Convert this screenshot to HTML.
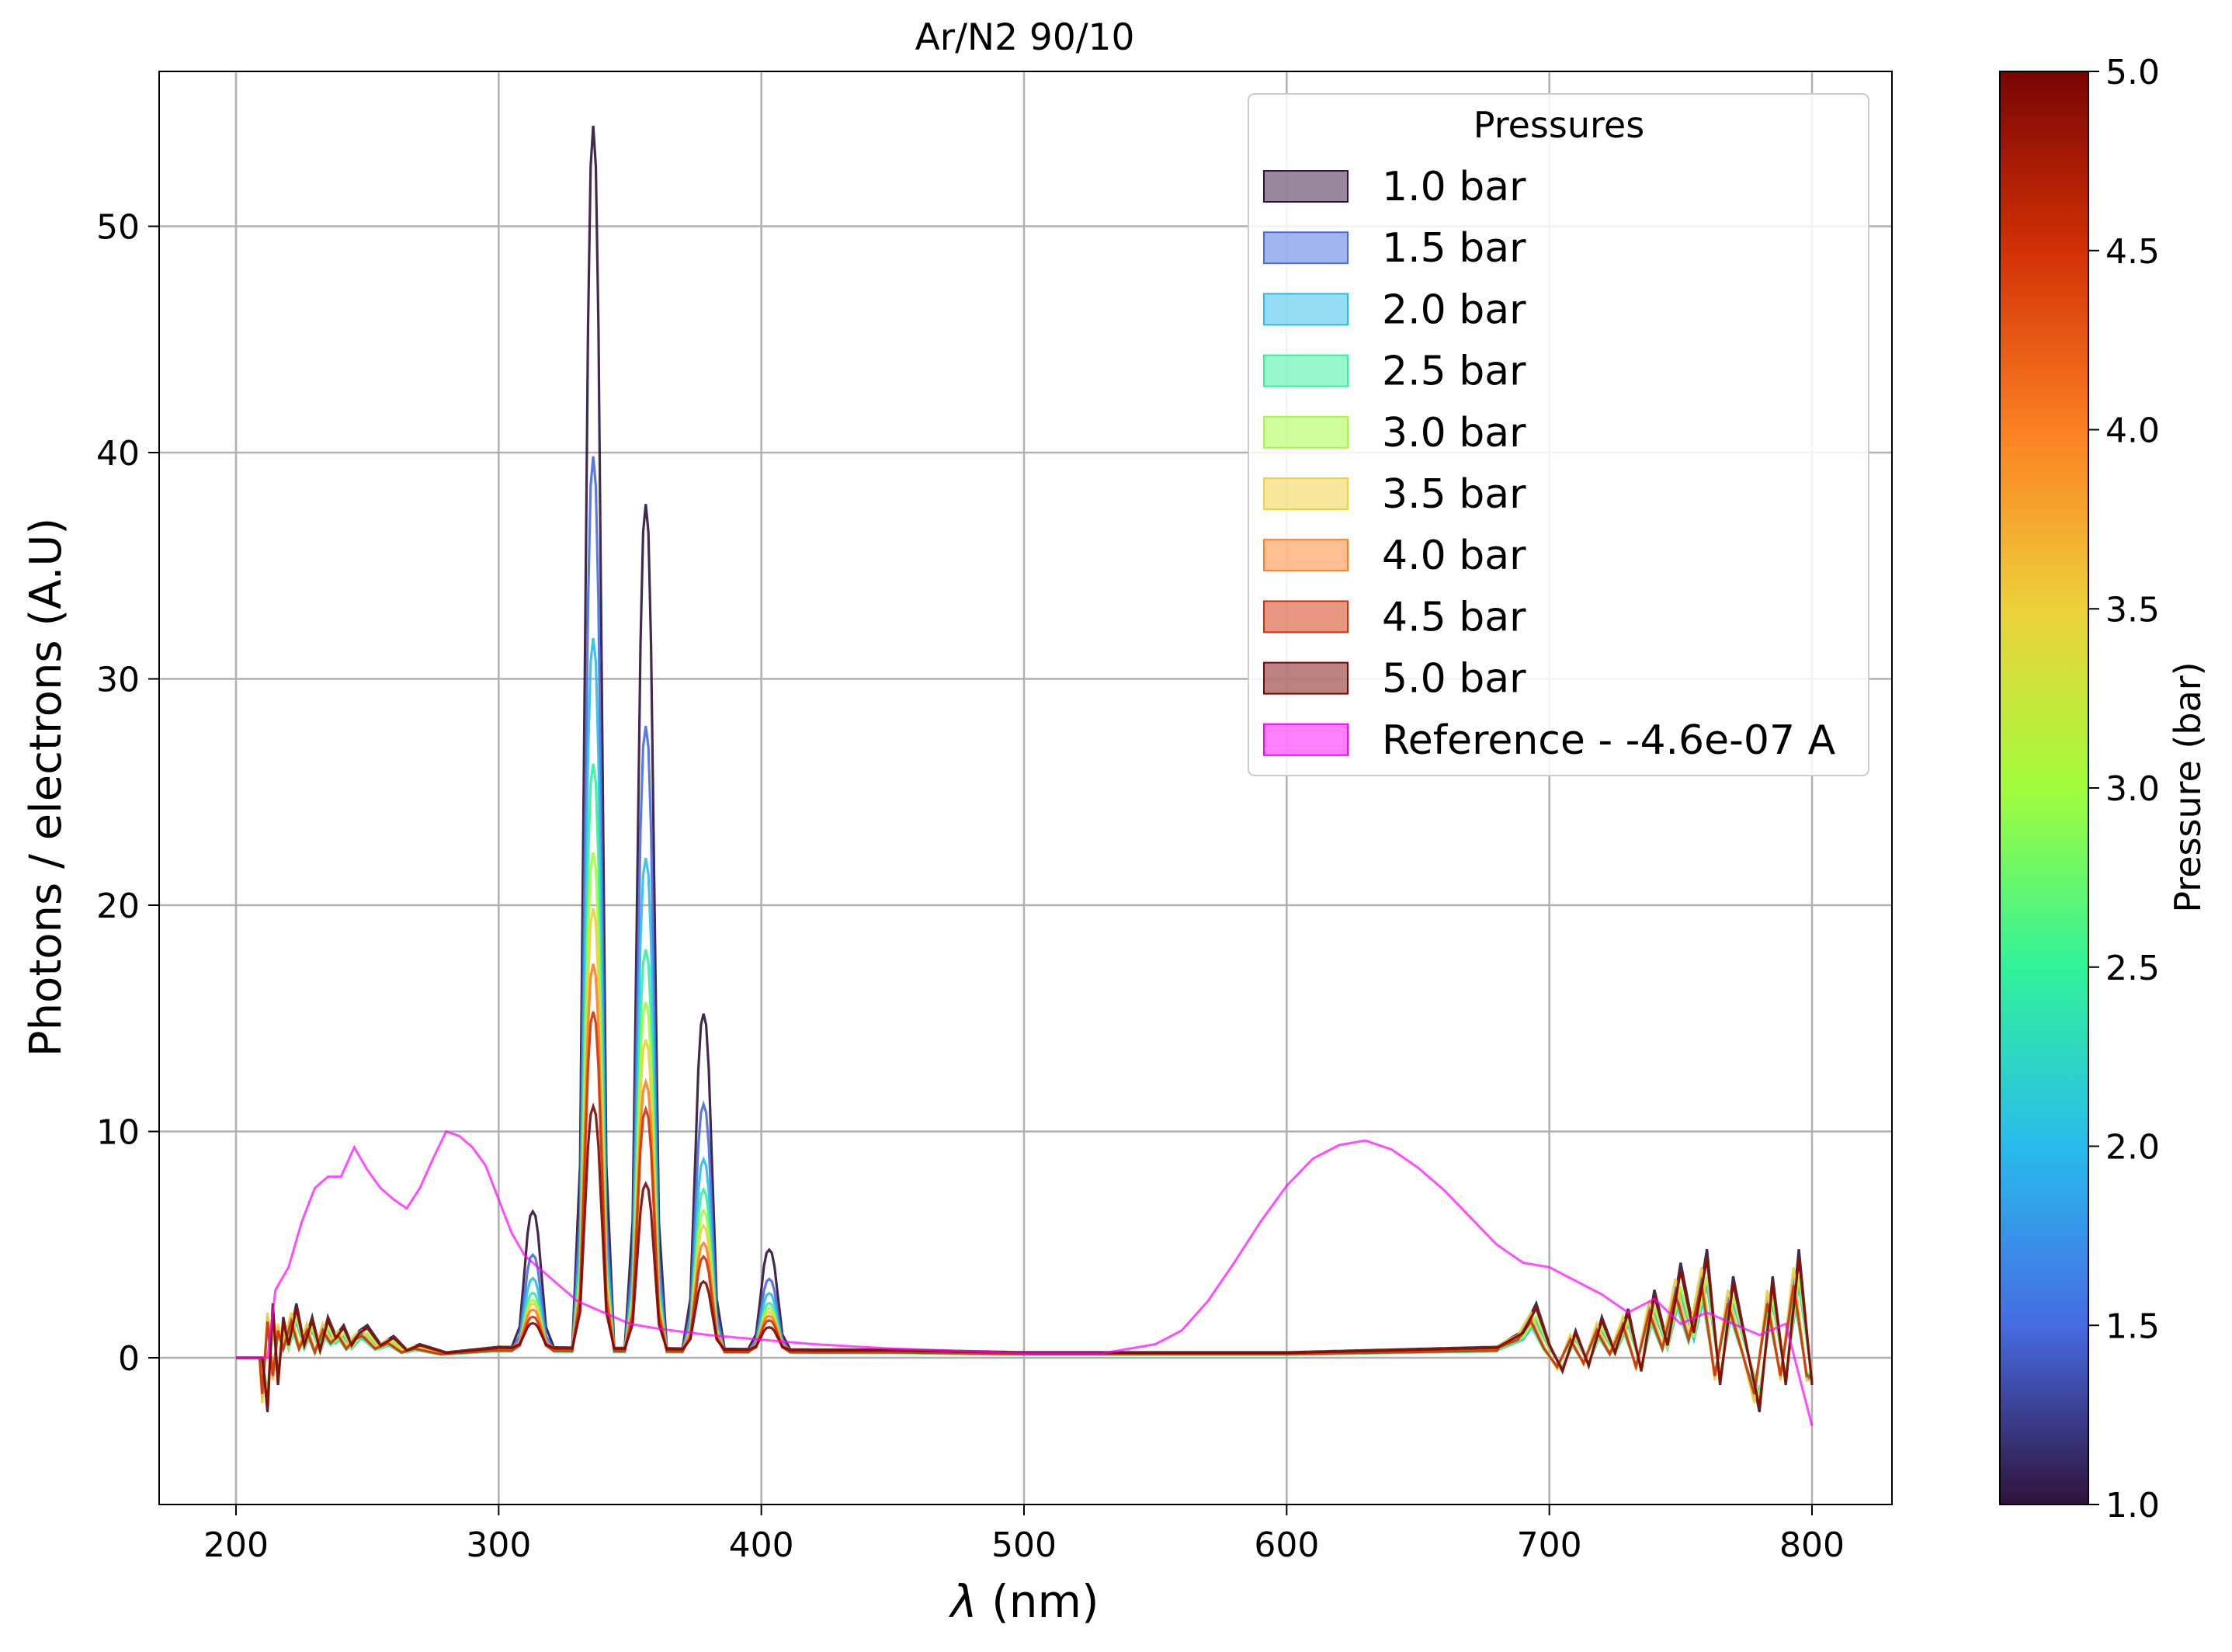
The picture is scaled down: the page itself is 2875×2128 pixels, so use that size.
<!DOCTYPE html>
<html><head><meta charset="utf-8"><style>
body{margin:0;background:#fff}
svg{display:block;font-family:"DejaVu Sans","Liberation Sans",sans-serif}
</style></head><body>
<svg id="c" width="2875" height="2128" viewBox="0 0 2875 2128" xmlns="http://www.w3.org/2000/svg">
<defs>
<linearGradient id="turbo" x1="0" y1="1" x2="0" y2="0">
<stop offset="0" stop-color="#30123b"/><stop offset="0.125" stop-color="#466be3"/>
<stop offset="0.25" stop-color="#29bbec"/><stop offset="0.375" stop-color="#31f299"/>
<stop offset="0.5" stop-color="#a2fc3c"/><stop offset="0.625" stop-color="#edd03a"/>
<stop offset="0.75" stop-color="#fb8022"/><stop offset="0.875" stop-color="#d23105"/>
<stop offset="1" stop-color="#7a0403"/>
</linearGradient>
<clipPath id="plotclip"><rect x="205" y="92" width="2232" height="1846"/></clipPath>
</defs>
<g id="grid"></g>
<g id="series" clip-path="url(#plotclip)"></g>
<rect x="205" y="92" width="2232" height="1846" fill="none" stroke="#000" stroke-width="2"/>
<g id="axes"></g>
<text x="1320" y="64" font-size="47" text-anchor="middle">Ar/N2 90/10</text>
<text x="1320" y="2083" font-size="58" text-anchor="middle"><tspan font-style="italic">λ</tspan> (nm)</text>
<text transform="translate(78,1014) rotate(-90)" font-size="56" text-anchor="middle">Photons / electrons (A.U)</text>
<g id="legend"></g>
<rect x="2576" y="92" width="114" height="1846" fill="url(#turbo)" stroke="#000" stroke-width="2"/>
<g id="cbar"></g>
<text transform="translate(2834,1014) rotate(-90)" font-size="46" text-anchor="middle">Pressure (bar)</text>
</svg>
<script>
const pressures=["1.0","1.5","2.0","2.5","3.0","3.5","4.0","4.5","5.0"];
const colors=["#30123b","#466be3","#29bbec","#31f299","#a2fc3c","#edd03a","#fb8022","#d23105","#7a0403"];
const peakCenters=[313,336,356,378,403];
const peak313=[6.0,4.2,3.2,2.6,2.2,2.0,1.7,1.5,1.1];
const peak336=[54,39.5,31.5,26,22,19.5,17,15,10.7];
const peak356=[37.3,27.6,21.8,17.8,15.4,13.7,11.8,10.7,7.3];
const peak378=[14.8,10.9,8.5,7.2,6.2,5.5,4.7,4.2,3.0];
const peak403=[4.4,3.2,2.6,2.2,1.9,1.7,1.5,1.4,1.0];
const shapeOffsets=[-8,-5,-3,-1.5,0,1.5,3,5,8];
const shapeVals=[0,0.15,0.6,0.95,1,0.95,0.6,0.15,0];
const baseWl=[200,209,210,212,214,216,218,220,223,226,229,232,235,238,241,244,247,250,255,260,265,270,280,290,300,420,450,500,600,680,690,695,700,705,710,715,720,725,730,735,740,745,750,755,760,765,770,775,780,785,790,795,800];
const baseVal=[0,0,0,-2,2,-1,1.5,0.5,2,0.5,1.5,0.3,1.5,0.8,1.2,0.5,1,1.2,0.5,0.8,0.3,0.5,0.2,0.3,0.4,0.3,0.3,0.2,0.2,0.4,1,2,0.5,-0.5,1,-0.3,1.5,0.2,1.8,-0.5,2.5,0.5,3.5,1,4,-1,3,0.5,-2,3,-1,4,-1];
const noiseAmp=[1.2,-0.9,0.8,-0.7,0.9,-1,1.1,-0.8,1.1];
const refWl=[200,212,215,220,225,230,235,240,245,250,255,260,265,270,275,280,285,290,295,300,305,310,320,330,340,350,360,380,400,420,450,500,530,550,560,570,580,590,600,610,620,630,640,650,660,670,680,690,700,710,720,730,740,750,760,780,790,800];
const refVal=[0,0,3,4,6,7.5,8,8,9.3,8.3,7.5,7,6.6,7.5,8.8,10,9.8,9.3,8.5,7,5.5,4.5,3.5,2.5,2,1.5,1.3,1,0.8,0.6,0.4,0.2,0.2,0.6,1.2,2.5,4.2,6,7.6,8.8,9.4,9.6,9.2,8.4,7.4,6.2,5,4.2,4,3.4,2.8,2,2.6,1.5,2,1,1.5,-3];
const xTicks=[200,300,400,500,600,700,800];
const yTicks=[0,10,20,30,40,50];
const cbTicks=["1.0","1.5","2.0","2.5","3.0","3.5","4.0","4.5","5.0"];

const X=v=>304+(v-200)*(2334-304)/600;
const Y=v=>1749-v*(1749-291.5)/50;
const CY=v=>1938-(v-1)*(1938-92)/4;
const NS="http://www.w3.org/2000/svg";
function mk(p,t,a){const e=document.createElementNS(NS,t);for(const k in a)e.setAttribute(k,a[k]);p.appendChild(e);return e;}
function interp(xs,ys,x){if(x<=xs[0])return ys[0];for(let i=1;i<xs.length;i++){if(x<=xs[i]){const t=(x-xs[i-1])/(xs[i]-xs[i-1]);return ys[i-1]+t*(ys[i]-ys[i-1]);}}return ys[ys.length-1];}

const grid=document.getElementById('grid'),axes=document.getElementById('axes');
xTicks.forEach(t=>{
  const g=mk(grid,'line',{x1:X(t),x2:X(t),y1:92,y2:1938,stroke:'#b0b0b0','stroke-width':2.5});
  
  mk(axes,'line',{x1:X(t),x2:X(t),y1:1938,y2:1952,stroke:'#000','stroke-width':2});
  const l=mk(axes,'text',{x:X(t),y:2005,'font-size':44,'text-anchor':'middle'});l.textContent=t;
  
});
yTicks.forEach(t=>{
  const g=mk(grid,'line',{x1:205,x2:2437,y1:Y(t),y2:Y(t),stroke:'#b0b0b0','stroke-width':2.5});
  
  mk(axes,'line',{x1:191,x2:205,y1:Y(t),y2:Y(t),stroke:'#000','stroke-width':2});
  const l=mk(axes,'text',{x:180,y:Y(t)+16,'font-size':44,'text-anchor':'end'});l.textContent=t;
  
});

const ser=document.getElementById('series');
const peaks=[peak313,peak336,peak356,peak378,peak403];
for(let s=0;s<pressures.length;s++){
  let d='';
  for(let w=200;w<=800;w+=1){
    let v=0;
    if(w>=210){
      v=interp(baseWl,baseVal,w)*Math.abs(noiseAmp[s]);
      if(noiseAmp[s]<0&&(w<300||w>680))v=interp(baseWl,baseVal,w+2)*Math.abs(noiseAmp[s]);
      peakCenters.forEach((c,k)=>{const o=w-c;if(o>shapeOffsets[0]&&o<shapeOffsets[8])v+=peaks[k][s]*interp(shapeOffsets,shapeVals,o);});
    }
    d+=(w===200?'M':'L')+X(w).toFixed(1)+','+Y(v).toFixed(1);
  }
  const p=mk(ser,'path',{d:d,fill:'none',stroke:colors[s],'stroke-width':3.2,'stroke-opacity':0.9});
  
  
}
{
  let d='';
  refWl.forEach((w,i)=>{d+=(i?'L':'M')+X(w).toFixed(1)+','+Y(refVal[i]).toFixed(1);});
  const p=mk(ser,'path',{d:d,fill:'none',stroke:'#ff00ff','stroke-width':3,'stroke-opacity':0.7});
  
  
}

const leg=document.getElementById('legend');
const lb=mk(leg,'rect',{x:1608,y:121,width:799,height:878,rx:8,fill:'#fff','fill-opacity':0.85,stroke:'#ccc','stroke-width':2});

const lt=mk(leg,'text',{x:2008,y:177,'font-size':46,'text-anchor':'middle'});lt.textContent='Pressures';

const labels=pressures.map(p=>p+' bar').concat(['Reference - -4.6e-07 A']);
const lcols=colors.concat(['#ff00ff']);
labels.forEach((t,i)=>{
  const y=240+i*79.2;
  const g=mk(leg,'g',{});
  
  mk(g,'rect',{x:1628,y:y-20,width:108,height:40,fill:lcols[i],'fill-opacity':0.5,stroke:lcols[i],'stroke-width':2});
  const tx=mk(g,'text',{x:1780,y:y+18,'font-size':52});tx.textContent=t;
});

const cb=document.getElementById('cbar');
cbTicks.forEach(t=>{
  const y=CY(parseFloat(t));
  mk(cb,'line',{x1:2690,x2:2704,y1:y,y2:y,stroke:'#000','stroke-width':2});
  const l=mk(cb,'text',{x:2712,y:y+16,'font-size':44});l.textContent=t;
  
});
</script>
</body></html>
